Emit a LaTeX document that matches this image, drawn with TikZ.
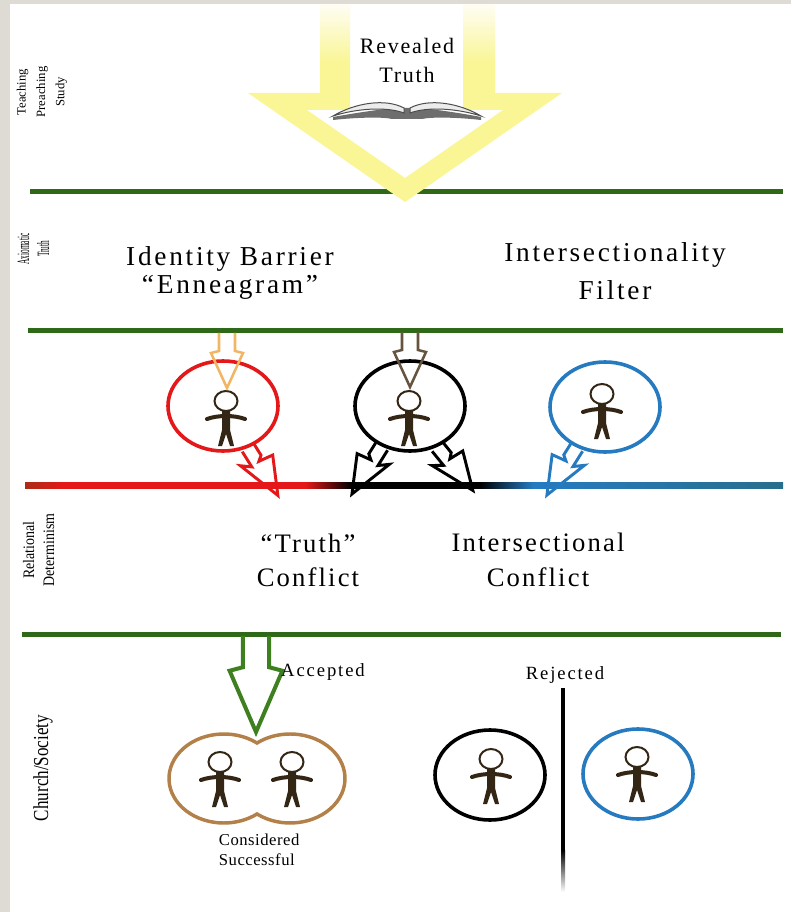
\documentclass[tikz,border=0pt]{standalone}
\usepackage{fontspec}
\usepackage{graphicx}
\setmainfont{Liberation Serif}
\newfontfamily\headfont[LetterSpace=10]{Liberation Serif}
\newfontfamily\midfont[LetterSpace=8]{Liberation Serif}
\newfontfamily\tagfont[LetterSpace=10]{Liberation Serif}
\newfontfamily\notefont[LetterSpace=3]{Liberation Serif}
\usetikzlibrary{shapes.geometric,fadings}

\definecolor{bggray}{RGB}{221,219,211}
\definecolor{lineg}{RGB}{45,105,22}
\definecolor{redc}{RGB}{228,24,24}
\definecolor{reldark}{RGB}{170,45,25}
\definecolor{bluec}{RGB}{38,122,192}
\definecolor{tealc}{RGB}{40,110,140}
\definecolor{pairc}{RGB}{178,128,72}
\definecolor{figc}{RGB}{52,38,20}
\definecolor{yellowc}{RGB}{250,246,150}
\definecolor{orangec}{RGB}{240,182,100}
\definecolor{stemc}{RGB}{100,84,64}
\definecolor{acceptc}{RGB}{62,128,32}
\definecolor{bookc}{RGB}{110,110,110}

\pgfdeclarehorizontalshading{relline}{100bp}{color(0bp)=(reldark); color(25bp)=(reldark); color(27.5bp)=(redc); color(43.5bp)=(redc); color(46.5bp)=(black); color(55bp)=(black); color(58.5bp)=(bluec); color(75bp)=(tealc); color(100bp)=(tealc)}
\tikzfading[name=fadedown, top color=transparent!10, bottom color=transparent!100]

\tikzset{every picture/.style={line width=0.75pt}}
\tikzset{
  ring/.style={ellipse, draw, line width=2.7pt, minimum width=82.5pt, minimum height=67.5pt, inner sep=0pt},
  greenline/.style={draw=lineg, line width=3.75pt},
  person/.pic={
    \fill[figc] (-4,10) -- (4,10) -- (4,29) -- (8,45) -- (4,45) -- (0,33) -- (-4,45) -- (-8,45) -- (-4,29) -- cycle;
    \draw[figc, line width=3pt, line cap=round] (-19,18) .. controls (-8,14) and (8,14) .. (19,18);
    \draw[figc, line width=1.5pt, fill=white] (0,0) ellipse [x radius=11.5, y radius=10];
  },
  bolt/.pic={
    \draw[line width=2.2pt] (0,-7) -- (13,-7) -- (17,-2) -- (19,-17) -- (56,0) -- (11,16) -- (18,7) -- (0,7);
  },
  hollowdown/.pic={
    \draw (-8,-55) -- (-8,-37) -- (-16,-35) -- (0,0) -- (16,-35) -- (8,-37) -- (8,-55);
  }
}

\begin{document}
\begin{tikzpicture}[x=0.75pt,y=0.75pt,yscale=-1,xscale=1]
	\useasboundingbox (0,0) rectangle (791,912);
	%Background
	\fill[bggray] (0,0) rectangle (791,912);
	\fill[white] (10,4) rectangle (791,912);

	%Straight Lines
	\draw[greenline] (30,192) -- (783,192);
	\draw[greenline] (28,331) -- (783,331);
	\shade[shading=relline] (25,482) rectangle (783,488);
	\draw[greenline] (22,634) -- (781,634);

	%Shape: Block Arrow
	\fill[yellowc, even odd rule] (320,4) -- (320,93) -- (248,93) -- (405,202) -- (562,93) -- (495,93) -- (495,4) -- cycle (350,4) -- (350,110) -- (307,110) -- (405,178) -- (503,110) -- (463,110) -- (463,4) -- cycle;
	\fill[white, path fading=fadedown] (310,4) rectangle (505,62);

	%Shape: Book
	\fill[bookc] (333,117) .. controls (360,112) and (385,109) .. (393,108) -- (421,108) .. controls (430,109) and (455,112) .. (481,117) -- (481,120) .. controls (455,117) and (430,117) .. (422,119) -- (392,119) .. controls (385,117) and (360,117) .. (333,120) -- cycle;
	\draw[bookc!70!black, fill=gray!15] (333,116) .. controls (355,103) and (385,98) .. (404,108) -- (404,113) .. controls (385,106) and (355,109) .. (333,116) -- cycle;
	\draw[bookc!70!black, fill=gray!15] (481,116) .. controls (459,103) and (429,98) .. (410,108) -- (410,113) .. controls (429,106) and (459,109) .. (481,116) -- cycle;

	% Text Node
	\node[font={\midfont\fontsize{16.5}{21.75}\selectfont}, align=center] (revealed) at (407,60) {Revealed\\Truth};

	%Shape: Ellipse
	\node[ring, draw=redc] (idcircle) at (223,406) {};
	\node[ring, draw=black] (midcircle) at (410,406) {};
	\node[ring, draw=bluec] (intcircle) at (605,407) {};
	\node[ring, draw=black] (rejblack) at (490,775) {};
	\node[ring, draw=bluec] (rejblue) at (638,774) {};
	%Shape: Double Ellipse
	\draw[pairc, line width=2.6pt] (257,743) arc[start angle=-52.9, end angle=-307.1, x radius=54.9, y radius=44.5] arc[start angle=127.1, end angle=-127.1, x radius=54.9, y radius=44.5] -- cycle;

	%People
	\pic[yscale=-1] at (226,401) {person};
	\pic[yscale=-1] at (409,401) {person};
	\pic[yscale=-1] at (602,394) {person};
	\pic[yscale=-1] at (220,762) {person};
	\pic[yscale=-1] at (292,762) {person};
	\pic[yscale=-1] at (491,759) {person};
	\pic[yscale=-1] at (637,757) {person};

	%Hollow Arrows
	\pic[yscale=-1, orangec, line width=1.9pt] at (227,388) {hollowdown};
	\pic[yscale=-1, stemc, line width=1.9pt] at (410,387) {hollowdown};
	\pic[yscale=-1, acceptc, line width=3pt, xscale=1.65, yscale=1.75] at (256,732) {hollowdown};
	\pic[yscale=-1, redc, rotate=58] at (idcircle.-59) {bolt};
	\pic[yscale=-1, black, rotate=122, yscale=-1] at (midcircle.-125) {bolt};
	\pic[yscale=-1, black, rotate=51] at (midcircle.-56) {bolt};
	\pic[yscale=-1, bluec, rotate=122, yscale=-1] at (intcircle.-125) {bolt};

	%Straight Lines
	\fill[black] (561,688) rectangle (565,850);
	\shade[top color=black, bottom color=white] (561,850) rectangle (565,892);

	% Text Node
	\node[font={\headfont\fontsize{20.5}{21.5}\selectfont}, align=center] (barrier) at (230,273) {Identity Barrier\\“Enneagram”};
	% Text Node
	\node[font={\headfont\fontsize{20.5}{28.5}\selectfont}, align=center] (filter) at (615,271) {Intersectionality\\Filter};
	% Text Node
	\node[font={\midfont\fontsize{20}{25.5}\selectfont}, align=center] (truthconf) at (308,560) {“Truth”\\Conflict};
	% Text Node
	\node[font={\midfont\fontsize{20}{26}\selectfont}, align=center] (interconf) at (538,560) {Intersectional\\Conflict};
	% Text Node
	\node[font={\tagfont\fontsize{14}{16}\selectfont}] (accepted) at (323,672) {Accepted};
	% Text Node
	\node[font={\tagfont\fontsize{14}{16}\selectfont}] (rejected) at (565,675) {Rejected};
	% Text Node
	\node[font={\notefont\fontsize{12.5}{15}\selectfont}, align=left, anchor=west] (success) at (214,850) {Considered\\Successful};

	% Text Node
	\node[rotate=90, align=center, font=\fontsize{9.5}{14.5}\selectfont] (teach) at (42,92) {Teaching\\Preaching\\Study};
	% Text Node
	\node[rotate=90, font=\fontsize{13}{15}\selectfont] (axiom) at (35,249) {\scalebox{0.42}[1]{\begin{tabular}{@{}c@{}}Axiomatic\\Truth\end{tabular}}};
	% Text Node
	\node[rotate=90, font=\fontsize{12}{15}\selectfont] (relat) at (40,550) {\scalebox{0.87}[1]{\begin{tabular}{@{}c@{}}Relational\\Determinism\end{tabular}}};
	% Text Node
	\node[rotate=90, font=\fontsize{16}{19}\selectfont] (church) at (43,768) {\scalebox{0.8}[1]{Church/Society}};
\end{tikzpicture}
\end{document}
